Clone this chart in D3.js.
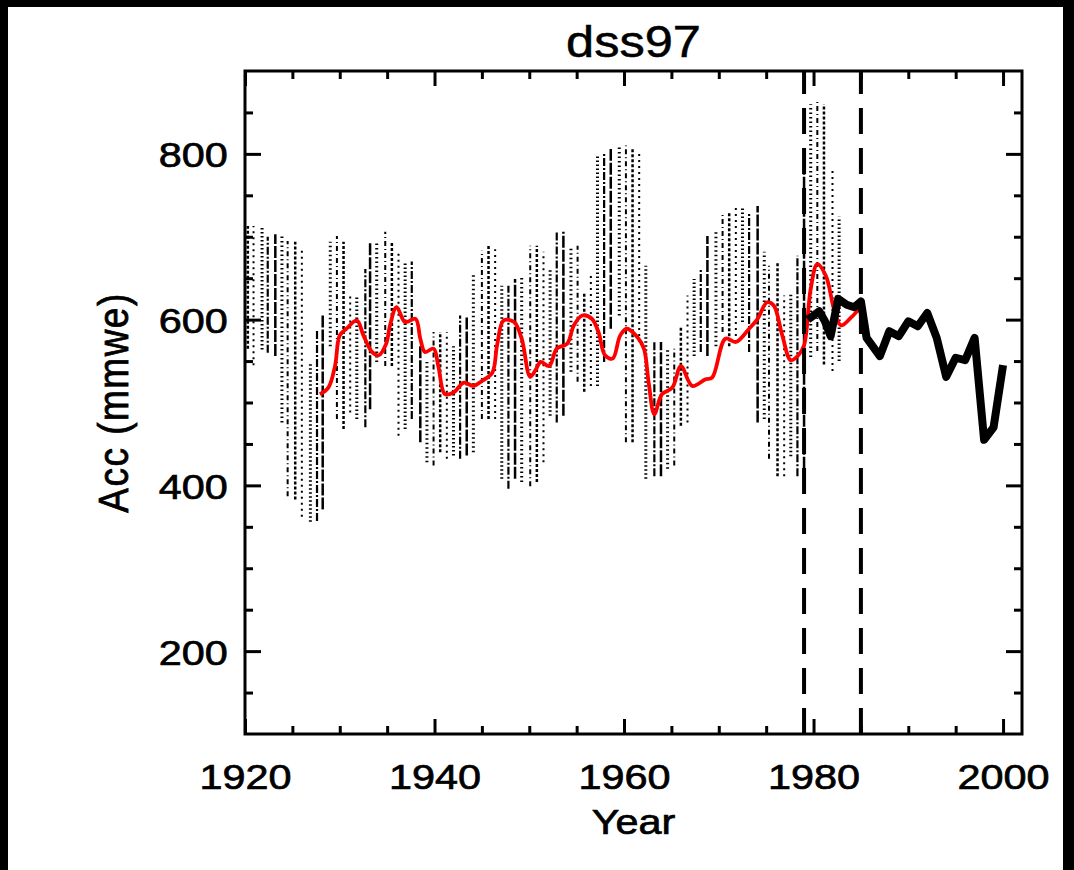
<!DOCTYPE html>
<html>
<head>
<meta charset="utf-8">
<script src="https://cdn.jsdelivr.net/npm/d3@7"></script>
<style>
  body { margin: 0; background: #000; }
  svg text { font-family: "Liberation Sans", Arial, sans-serif; fill: #000; }
</style>
</head>
<body>
<svg id="chart" width="1074" height="870"></svg>
<script>
// tick values
var xMajor = [1920, 1940, 1960, 1980, 2000];
var yMajor = [200, 400, 600, 800];

// ensemble columns: year, top and bottom of each column (mmwe)
var colYears = [1920.3, 1920.9, 1921.8, 1922.4, 1923.2, 1923.9, 1924.5, 1925.3, 1926.0, 1926.9, 1927.6, 1928.2,
  1929.0, 1929.7, 1930.4, 1931.1, 1931.8, 1932.7, 1933.2, 1933.9, 1934.8, 1935.5, 1936.2, 1936.9, 1937.6,
  1938.5, 1939.2, 1939.9, 1940.6, 1941.3, 1942.0, 1942.7, 1943.4, 1944.1, 1945.0, 1945.7, 1946.4, 1947.1,
  1947.8, 1948.5, 1949.2, 1950.1, 1950.8, 1951.5, 1952.2, 1952.9, 1953.6, 1954.4, 1955.1, 1955.8, 1956.5,
  1957.2, 1957.9, 1958.6, 1959.5, 1960.2, 1960.9, 1961.6, 1962.3, 1963.2, 1963.9, 1964.6, 1965.3, 1966.0,
  1966.7, 1967.4, 1968.1, 1968.8, 1969.7, 1970.4, 1971.1, 1971.8, 1972.5, 1973.2, 1974.1, 1974.8, 1975.3,
  1976.2, 1976.9, 1977.6, 1978.3, 1979.0, 1979.7, 1980.4, 1981.1, 1982.0, 1982.7];
var colHigh = [713, 713, 713, 700, 703, 703, 695, 694, 688, 549, 587, 605,
  694, 701, 694, 629, 629, 661, 694, 694, 706, 694, 682, 670, 670,
  568, 549, 585, 585, 585, 568, 605, 605, 657, 683, 689, 685, 641,
  641, 649, 653, 689, 689, 682, 661, 706, 706, 689, 689, 633, 653,
  798, 802, 806, 810, 810, 806, 802, 665, 573, 573, 565, 565, 592,
  629, 649, 661, 701, 706, 730, 730, 737, 734, 730, 737, 682, 665,
  670, 629, 633, 677, 780, 860, 864, 860, 780, 724];
var colLow = [565, 545, 564, 560, 556, 476, 387, 383, 362, 356, 357, 371,
  568, 480, 468, 488, 480, 470, 492, 549, 544, 544, 460, 468, 480,
  452, 428, 424, 440, 432, 436, 432, 436, 440, 480, 480, 480, 408,
  396, 408, 404, 399, 404, 428, 484, 476, 484, 537, 525, 513, 520,
  520, 549, 589, 605, 452, 452, 573, 408, 411, 411, 420, 424, 472,
  476, 556, 561, 556, 568, 585, 568, 573, 597, 561, 476, 480, 432,
  411, 411, 435, 411, 420, 555, 562, 546, 538, 550];

// smoothed series (red)
var smoothYears = [1927.9, 1928.8, 1929.5, 1930.0, 1930.7, 1931.8, 1932.5, 1933.4, 1934.1, 1934.9, 1935.3,
  1936.0, 1936.9, 1938.0, 1938.5, 1939.0, 1939.9, 1940.4, 1941.1, 1942.0, 1943.1, 1944.1, 1945.0, 1946.1,
  1946.6, 1947.3, 1948.4, 1949.2, 1950.1, 1950.7, 1951.2, 1952.1, 1952.9, 1954.0, 1954.7, 1955.6, 1956.6,
  1957.3, 1958.0, 1958.8, 1959.6, 1960.3, 1961.4, 1962.1, 1962.6, 1963.2, 1964.0, 1965.1, 1966.0, 1967.2,
  1968.6, 1969.3, 1970.7, 1971.8, 1973.2, 1974.1, 1975.1, 1975.8, 1976.7, 1977.6, 1978.4, 1979.0, 1979.7,
  1980.4, 1981.3, 1982.2, 1982.9, 1984.0, 1984.8];
var smoothAcc = [510, 518, 544, 581, 589, 599, 581, 561, 557, 571, 593,
  615, 597, 601, 577, 561, 565, 544, 510, 512, 524, 520, 526, 536,
  569, 599, 597, 577, 531, 540, 549, 544, 565, 571, 593, 605, 601,
  585, 557, 553, 581, 589, 579, 565, 524, 486, 510, 518, 544, 520,
  528, 530, 577, 573, 589, 601, 621, 617, 581, 551, 557, 569, 637,
  667, 653, 611, 593, 603, 613];

// observed series (thick black)
var obsYears = [1979.4, 1980.0, 1980.6, 1981.2, 1981.8, 1982.6, 1983.5, 1984.3, 1985.0, 1985.6, 1987.0,
  1988.0, 1989.0, 1990.0, 1991.0, 1992.0, 1993.0, 1994.0, 1995.0, 1996.0, 1997.0, 1998.0, 1999.0, 2000.0];
var obsAcc = [600, 605, 610, 598, 580, 625, 618, 615, 622, 578, 556,
  586, 580, 598, 592, 608, 578, 531, 554, 551, 578, 455, 470, 545];

// dashed marker years
var markerYears = [1979, 1985];

var svg = d3.select("#chart"),
  pLeft = 245, pRight = 1022, pTop = 71, pBottom = 734,
  stretch = 1.15;

svg.append("rect").attr("x", 0).attr("y", 0).attr("width", 1074).attr("height", 870).attr("fill", "#000");
svg.append("rect").attr("x", 8).attr("y", 7).attr("width", 1055).attr("height", 863).attr("fill", "#fff");

var x = d3.scaleLinear().domain([1920, 2002]).range([pLeft, pRight]);
var y = d3.scaleLinear().domain([100, 900]).range([pBottom, pTop]);

var xMinor = d3.range(1925, 2002, 5).filter(function(d) { return xMajor.indexOf(d) < 0; });
var yMinor = d3.range(150, 900, 50).filter(function(d) { return yMajor.indexOf(d) < 0; });

// ensemble cloud
var patterns = ["3,2", "1.5,3", "8,2,2,2", "2,4", "5,3,1,3", "12,2", "1.5,2.5"];
var widths = [2.5, 2, 3, 2.2, 2.5, 3, 2];
svg.append("g").selectAll("line")
  .data(colYears)
  .enter().append("line")
  .attr("x1", function(d) { return x(d); })
  .attr("x2", function(d) { return x(d); })
  .attr("y1", function(d, i) { return y(colLow[i]); })
  .attr("y2", function(d, i) { return y(colHigh[i]); })
  .attr("stroke", "#000")
  .attr("stroke-width", function(d, i) { return widths[i % widths.length]; })
  .attr("stroke-dasharray", function(d, i) { return patterns[(i * 3) % patterns.length]; });

// smoothed red line
var redLine = d3.line()
  .x(function(d) { return x(d); })
  .y(function(d, i) { return y(smoothAcc[i]); })
  .curve(d3.curveCatmullRom.alpha(0.5));
svg.append("path")
  .attr("d", redLine(smoothYears))
  .attr("fill", "none")
  .attr("stroke", "#ff0000")
  .attr("stroke-width", 3.8);

// observed black line
var obsLine = d3.line()
  .x(function(d) { return x(d); })
  .y(function(d, i) { return y(obsAcc[i]); });
svg.append("path")
  .attr("d", obsLine(obsYears))
  .attr("fill", "none")
  .attr("stroke", "#000")
  .attr("stroke-width", 8)
  .attr("stroke-linejoin", "round");

// dashed markers
svg.append("g").selectAll("line")
  .data(markerYears)
  .enter().append("line")
  .attr("x1", function(d) { return x(d); })
  .attr("x2", function(d) { return x(d); })
  .attr("y1", pBottom)
  .attr("y2", pTop)
  .attr("stroke", "#000")
  .attr("stroke-width", 4)
  .attr("stroke-dasharray", "26,14");

// axes, ticks inward on all four sides
function ticks(axis, pos, values, len) {
  var g = svg.append("g").attr("transform", pos)
    .call(axis.tickValues(values).tickSize(-len).tickSizeOuter(0).tickFormat(""));
  g.select(".domain").remove();
  g.selectAll("line").attr("stroke", "#000").attr("stroke-width", 3);
  return g;
}
ticks(d3.axisBottom(x), "translate(0," + pBottom + ")", xMinor, 8);
ticks(d3.axisTop(x), "translate(0," + pTop + ")", xMinor, 8);
ticks(d3.axisTop(x), "translate(0," + pTop + ")", xMajor, 15);
ticks(d3.axisLeft(y), "translate(" + pLeft + ",0)", yMinor, 8);
ticks(d3.axisRight(y), "translate(" + pRight + ",0)", yMinor, 8);
ticks(d3.axisRight(y), "translate(" + pRight + ",0)", yMajor, 16);

var xAxis = svg.append("g").attr("transform", "translate(0," + pBottom + ")")
  .call(d3.axisBottom(x).tickValues(xMajor).tickSize(-15).tickSizeOuter(0).tickPadding(29).tickFormat(d3.format("d")));
var yAxis = svg.append("g").attr("transform", "translate(" + pLeft + ",0)")
  .call(d3.axisLeft(y).tickValues(yMajor).tickSize(-16).tickSizeOuter(0).tickPadding(15).tickFormat(d3.format("d")));
[xAxis, yAxis].forEach(function(g) {
  g.select(".domain").remove();
  g.selectAll("line").attr("stroke", "#000").attr("stroke-width", 3);
  g.selectAll("text")
    .attr("font-family", "Liberation Sans, Arial, sans-serif")
    .attr("font-size", 36)
    .attr("fill", "#000")
    .attr("stroke", "#000")
    .attr("stroke-width", 0.7)
    .attr("transform", "scale(" + stretch + ",1)");
});
yAxis.selectAll("text").attr("dy", "0.36em");

// plot frame
svg.append("rect")
  .attr("x", pLeft).attr("y", pTop)
  .attr("width", pRight - pLeft).attr("height", pBottom - pTop)
  .attr("fill", "none").attr("stroke", "#000").attr("stroke-width", 3);

// titles
svg.append("text")
  .attr("transform", "translate(" + (pLeft + pRight) / 2 + ",57) scale(" + stretch + ",1)")
  .attr("text-anchor", "middle")
  .attr("font-size", 44)
  .attr("stroke", "#000").attr("stroke-width", 0.5)
  .text("dss97");
svg.append("text")
  .attr("transform", "translate(" + (pLeft + pRight) / 2 + ",834) scale(" + stretch + ",1)")
  .attr("text-anchor", "middle")
  .attr("font-size", 36)
  .attr("stroke", "#000").attr("stroke-width", 0.7)
  .text("Year");
svg.append("text")
  .attr("transform", "translate(128," + (pTop + pBottom) / 2 + ") rotate(-90) scale(1," + stretch + ")")
  .attr("text-anchor", "middle")
  .attr("font-size", 37)
  .attr("letter-spacing", 1.5)
  .attr("stroke", "#000").attr("stroke-width", 0.7)
  .text("Acc (mmwe)");
</script>
</body>
</html>
